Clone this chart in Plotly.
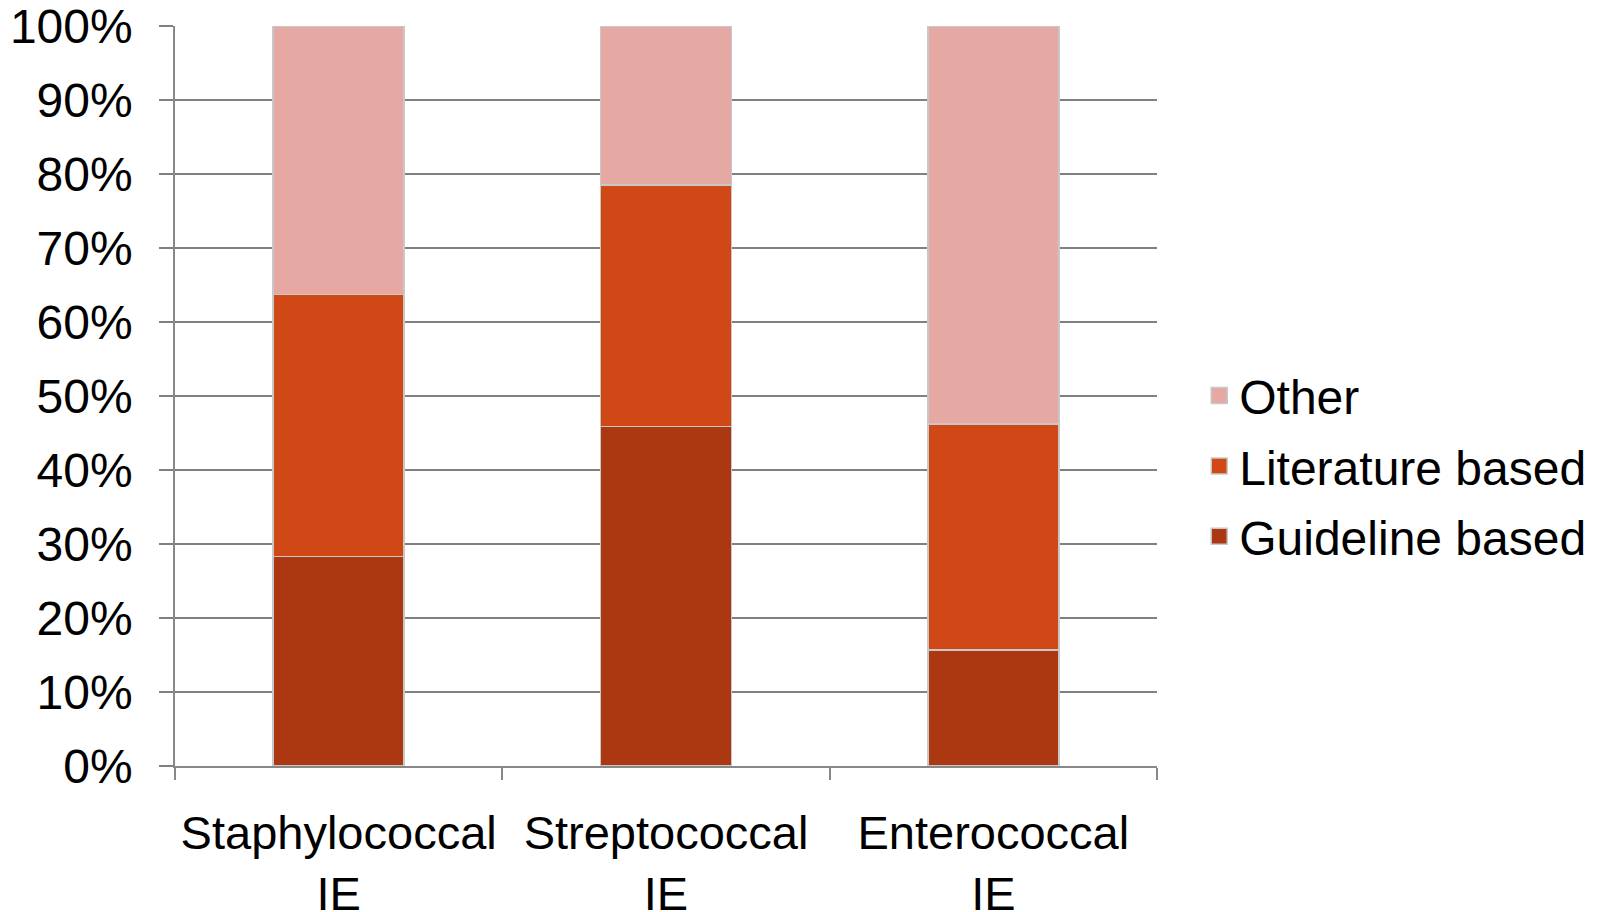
import plotly.graph_objects as go

categories = ["Staphylococcal<br>IE", "Streptococcal<br>IE", "Enterococcal<br>IE"]
guideline_based = [28.3, 45.9, 15.7]
literature_based = [35.4, 32.6, 30.5]
other = [36.3, 21.5, 53.8]

series = [
    ("Guideline based", guideline_based, "#AC3812", 3),
    ("Literature based", literature_based, "#D14817", 2),
    ("Other", other, "#E5A8A3", 1),
]

fig = go.Figure()
for i, (name, vals, color, rank) in enumerate(series):
    fig.add_trace(go.Bar(
        x=categories, y=vals, name=name, showlegend=False,
        marker=dict(color=color, line=dict(color="#C8C8C8", width=1.5)),
    ))
    # legend entry with a larger square swatch
    fig.add_trace(go.Scatter(
        x=[None], y=[None], mode="markers", name=name,
        legendgroup=f"g{i}", legendrank=rank,
        marker=dict(symbol="square", size=16, color=color,
                    line=dict(color="#C8C8C8", width=1.5)),
    ))

font_family = "Liberation Sans, Arial, sans-serif"
fs = 48
fig.update_layout(
    barmode="stack",
    bargap=0.6,
    width=1602, height=912,
    margin=dict(l=175, r=445, t=26, b=146, autoexpand=False),
    paper_bgcolor="white", plot_bgcolor="white",
    font=dict(family=font_family, size=fs, color="black"),
    showlegend=True,
    legend=dict(
        traceorder="grouped", tracegroupgap=5,
        x=1.043, xanchor="left", y=0.405, yanchor="middle",
        font=dict(size=fs, color="black"),
        itemwidth=30,
    ),
    xaxis=dict(
        automargin=False, tickangle=0, ticklabeloverflow="allow",
        showgrid=False, showline=True, linecolor="#888888", linewidth=1.5,
        ticks="outside", tickson="boundaries", ticklen=12, tickcolor="#888888",
        tickwidth=1.5, ticklabelstandoff=25,
        tickfont=dict(size=47, color="black"),
    ),
    yaxis=dict(
        automargin=False, ticklabeloverflow="allow",
        range=[0, 100], tickvals=[0, 10, 20, 30, 40, 50, 60, 70, 80, 90, 100],
        ticktext=["0%", "10%", "20%", "30%", "40%", "50%", "60%", "70%", "80%", "90%", "100%"],
        showgrid=True, gridcolor="#808080", gridwidth=1.5,
        zeroline=False,
        showline=True, linecolor="#888888", linewidth=1.5,
        ticks="outside", ticklen=14, tickcolor="#808080", tickwidth=1.5,
        ticklabelstandoff=17,
        tickfont=dict(size=fs, color="black"),
    ),
)

fig.write_html("out.html")
